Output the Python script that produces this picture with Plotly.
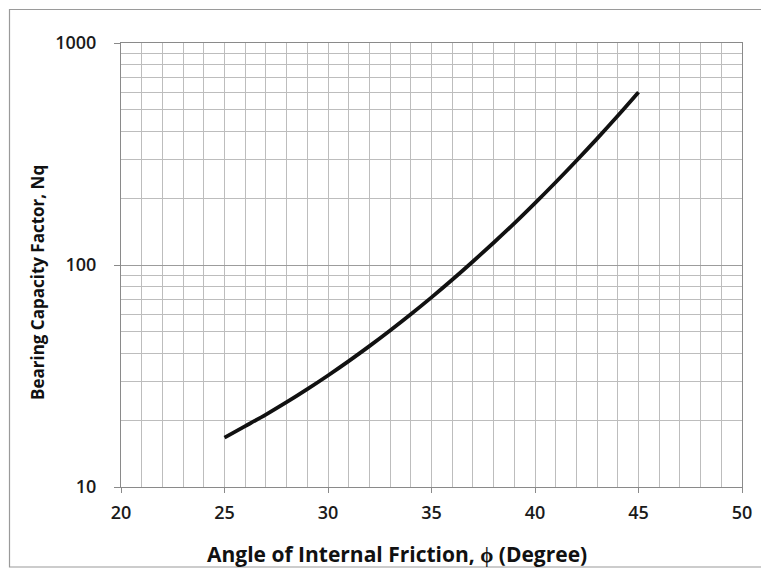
import plotly.graph_objects as go

# Data
phi_deg = [25, 26, 27, 28, 29, 30, 31, 32, 33, 34, 35, 36, 37, 38, 39, 40, 41, 42, 43, 44, 45]
nq_vals = [16.7, 18.8, 21.2, 24.1, 27.6, 31.8, 36.9, 43.1, 50.7, 60.0, 71.5, 85.8,
           103.7, 126, 154, 190, 236, 295, 371, 470, 600]

x_ticks = [20, 25, 30, 35, 40, 45, 50]
y_ticks = [10, 100, 1000]
y_ticklabels = ["10", "100", "1000"]

x_title = "Angle of Internal Friction, ϕ (Degree)"
y_title = "Bearing Capacity Factor, Nq"

FONT = "Open Sans"
OFF = 8  # page offset of the figure (body margin)

W, H = 769 - OFF, 574 - OFF
L, T = 121 - OFF, 43 - OFF
PW, PH = 621, 444
R = W - L - PW
B = H - T - PH


def px_x(page_x):
    return (page_x - 121) / PW


def px_y(page_y):
    return (487 - page_y) / PH


fig = go.Figure()
fig.add_trace(go.Scatter(
    x=phi_deg, y=nq_vals, mode="lines",
    line=dict(color="#111111", width=3.8, shape="spline"),
    showlegend=False,
))

grid_col = "#bdbdbd"
tickfont = dict(family=FONT, size=18, color="#1a1a1a", weight=600)
fig.update_xaxes(
    range=[20, 50], tickvals=x_ticks, ticktext=[str(v) for v in x_ticks],
    showgrid=True, gridcolor=grid_col, gridwidth=1,
    minor=dict(dtick=1, showgrid=True, gridcolor=grid_col, gridwidth=1),
    showline=True, linecolor="#8a8a8a", linewidth=1.2, mirror=True,
    ticks="outside", ticklen=5, tickcolor="#8a8a8a",
    ticklabelstandoff=4,
    tickfont=tickfont,
    zeroline=False,
)
fig.update_yaxes(
    type="log", range=[1, 3], tickvals=y_ticks, ticktext=y_ticklabels,
    showgrid=True, gridcolor="#9c9c9c", gridwidth=1.2,
    minor=dict(dtick="D1", showgrid=True, gridcolor=grid_col, gridwidth=1),
    showline=True, linecolor="#8a8a8a", linewidth=1.2, mirror=True,
    ticks="outside", ticklen=6, tickcolor="#8a8a8a",
    ticklabelstandoff=14,
    tickfont=tickfont,
    zeroline=False,
)

fig.update_layout(
    width=W, height=H,
    margin=dict(l=L, r=R, t=T, b=B),
    paper_bgcolor="white", plot_bgcolor="white",
    font=dict(family=FONT, color="#1a1a1a"),
    annotations=[
        dict(text=x_title, xref="paper", yref="paper", x=px_x(397), y=px_y(554),
             showarrow=False, xanchor="center", yanchor="middle",
             font=dict(family=FONT, size=21, color="#111111", weight="bold")),
        dict(text=y_title, xref="paper", yref="paper", x=px_x(37), y=px_y(283),
             showarrow=False, xanchor="center", yanchor="middle", textangle=-90,
             font=dict(family=FONT, size=17, color="#111111", weight="bold")),
    ],
    shapes=[
        dict(type="rect", xref="paper", yref="paper",
             x0=px_x(9.5), x1=px_x(767),
             y0=px_y(567), y1=px_y(9.5),
             line=dict(color="#9a9a9a", width=1.2), layer="below"),
    ],
)

fig.write_html("out.html")
